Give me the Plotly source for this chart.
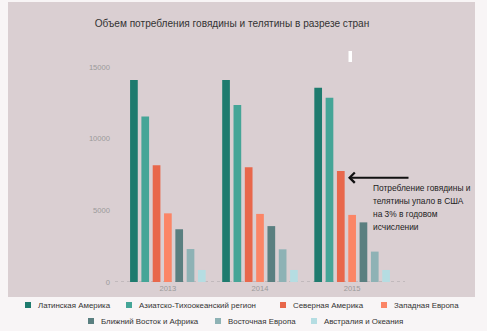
import plotly.graph_objects as go

years = ["2013", "2014", "2015"]
regions = [
    "Латинская Америка",
    "Азиатско-Тихоокеанский регион",
    "Северная Америка",
    "Западная Европа",
    "Ближний Восток и Африка",
    "Восточная Европа",
    "Австралия и Океания",
]
latin_america = [14100, 14100, 13560]
asia_pacific = [11550, 12350, 12860]
north_america = [8140, 8000, 7750]
western_europe = [4790, 4750, 4680]
middle_east_africa = [3680, 3900, 4160]
eastern_europe = [2300, 2280, 2120]
australia_oceania = [840, 840, 840]
series = [latin_america, asia_pacific, north_america, western_europe,
          middle_east_africa, eastern_europe, australia_oceania]
colors = ["#1e7b6e", "#45a597", "#e8674b", "#fb8566", "#5a7f80", "#8eb2b5", "#b5dde2"]
y_ticks = [0, 5000, 10000, 15000]

title_text = "Объем потребления говядины и телятины в разрезе стран"
note_lines = ["Потребление говядины и", "телятины упало в США",
              "на 3% в годовом", "исчислении"]

FONT = "Liberation Sans, Arial, sans-serif"
W, H = 487, 331
L, R, T, B = 115, 82, 55, 49
pw, ph = W - L - R, H - T - B

# legend layout (pixel positions of the text start of each entry, and row centres)
legend_text_x = [37, 138, 292, 393, 100, 227, 323]
legend_row_y = [305, 305, 305, 305, 321, 321, 321]


def px_x(p):
    return (p - L) / pw


def px_y(p):
    return (H - B - p) / ph


fig = go.Figure()
for name, vals, col in zip(regions, series, colors):
    fig.add_trace(go.Bar(x=years, y=vals, name=name, marker_color=col,
                         marker_line_width=0, showlegend=False))

xr = [-0.574, 2.574]
yr = [0, 15837]
ux = pw / (xr[1] - xr[0])
uy = ph / (yr[1] - yr[0])


def dx(p):
    return xr[0] + (p - L) / ux


def dy(p):
    return (H - B - p) / uy


shapes = [
    dict(type="rect", xref="paper", yref="paper", layer="below",
         x0=px_x(8), x1=px_x(475), y0=px_y(297), y1=px_y(2),
         fillcolor="#dacfd2", line_width=0),
    dict(type="line", xref="paper", yref="y", x0=0, x1=1, y0=0, y1=0,
         line=dict(color="#a9a3a6", width=1, dash="dot"), layer="below"),
    dict(type="rect", xref="paper", yref="paper",
         x0=px_x(348.5), x1=px_x(352), y0=px_y(62), y1=px_y(51),
         fillcolor="#ffffff", line_width=0),
]

annotations = [
    dict(x=dx(348), y=dy(177.7), ax=dx(410), ay=dy(177.7), xref="x", yref="y",
         axref="x", ayref="y", text="", showarrow=True, arrowhead=4,
         arrowsize=1, arrowwidth=2, arrowcolor="#111111"),
]
for k, line in enumerate(note_lines):
    annotations.append(dict(
        x=px_x(371), y=px_y(187.7 + 13.1 * k), xref="paper", yref="paper",
        text=line, showarrow=False, xanchor="left", yanchor="middle",
        font=dict(family=FONT, size=8.4, color="#222222")))

# legend drawn as swatches + labels
for name, col, tx, ty in zip(regions, colors, legend_text_x, legend_row_y):
    shapes.append(dict(type="rect", xref="paper", yref="paper",
                       x0=px_x(tx - 12), x1=px_x(tx - 6),
                       y0=px_y(ty + 3), y1=px_y(ty - 3),
                       fillcolor=col, line_width=0))
    annotations.append(dict(x=px_x(tx - 1), y=px_y(ty), xref="paper", yref="paper",
                            text=name, showarrow=False, xanchor="left",
                            yanchor="middle",
                            font=dict(family=FONT, size=7.9, color="#333333")))

fig.update_layout(
    width=W, height=H,
    margin=dict(l=L, r=R, t=T, b=B, pad=0),
    paper_bgcolor="#f8f5f6",
    plot_bgcolor="rgba(0,0,0,0)",
    barmode="group", bargap=0.14, bargroupgap=0.32,
    showlegend=False,
    title=dict(text=title_text, x=232 / W, y=1 - 23 / H, xanchor="center",
               yanchor="middle", font=dict(family=FONT, size=10.1, color="#333333")),
    xaxis=dict(range=xr, showgrid=False, zeroline=False, showline=False,
               tickfont=dict(family=FONT, size=7.6, color="#9a9a9a"), ticks=""),
    yaxis=dict(range=yr, tickvals=y_ticks, ticktext=[str(v) for v in y_ticks],
               showgrid=False, zeroline=False, showline=False, ticks="",
               ticklabelstandoff=4,
               tickfont=dict(family=FONT, size=7.6, color="#9a9a9a")),
    shapes=shapes,
    annotations=annotations,
)

fig.write_html("out.html")
